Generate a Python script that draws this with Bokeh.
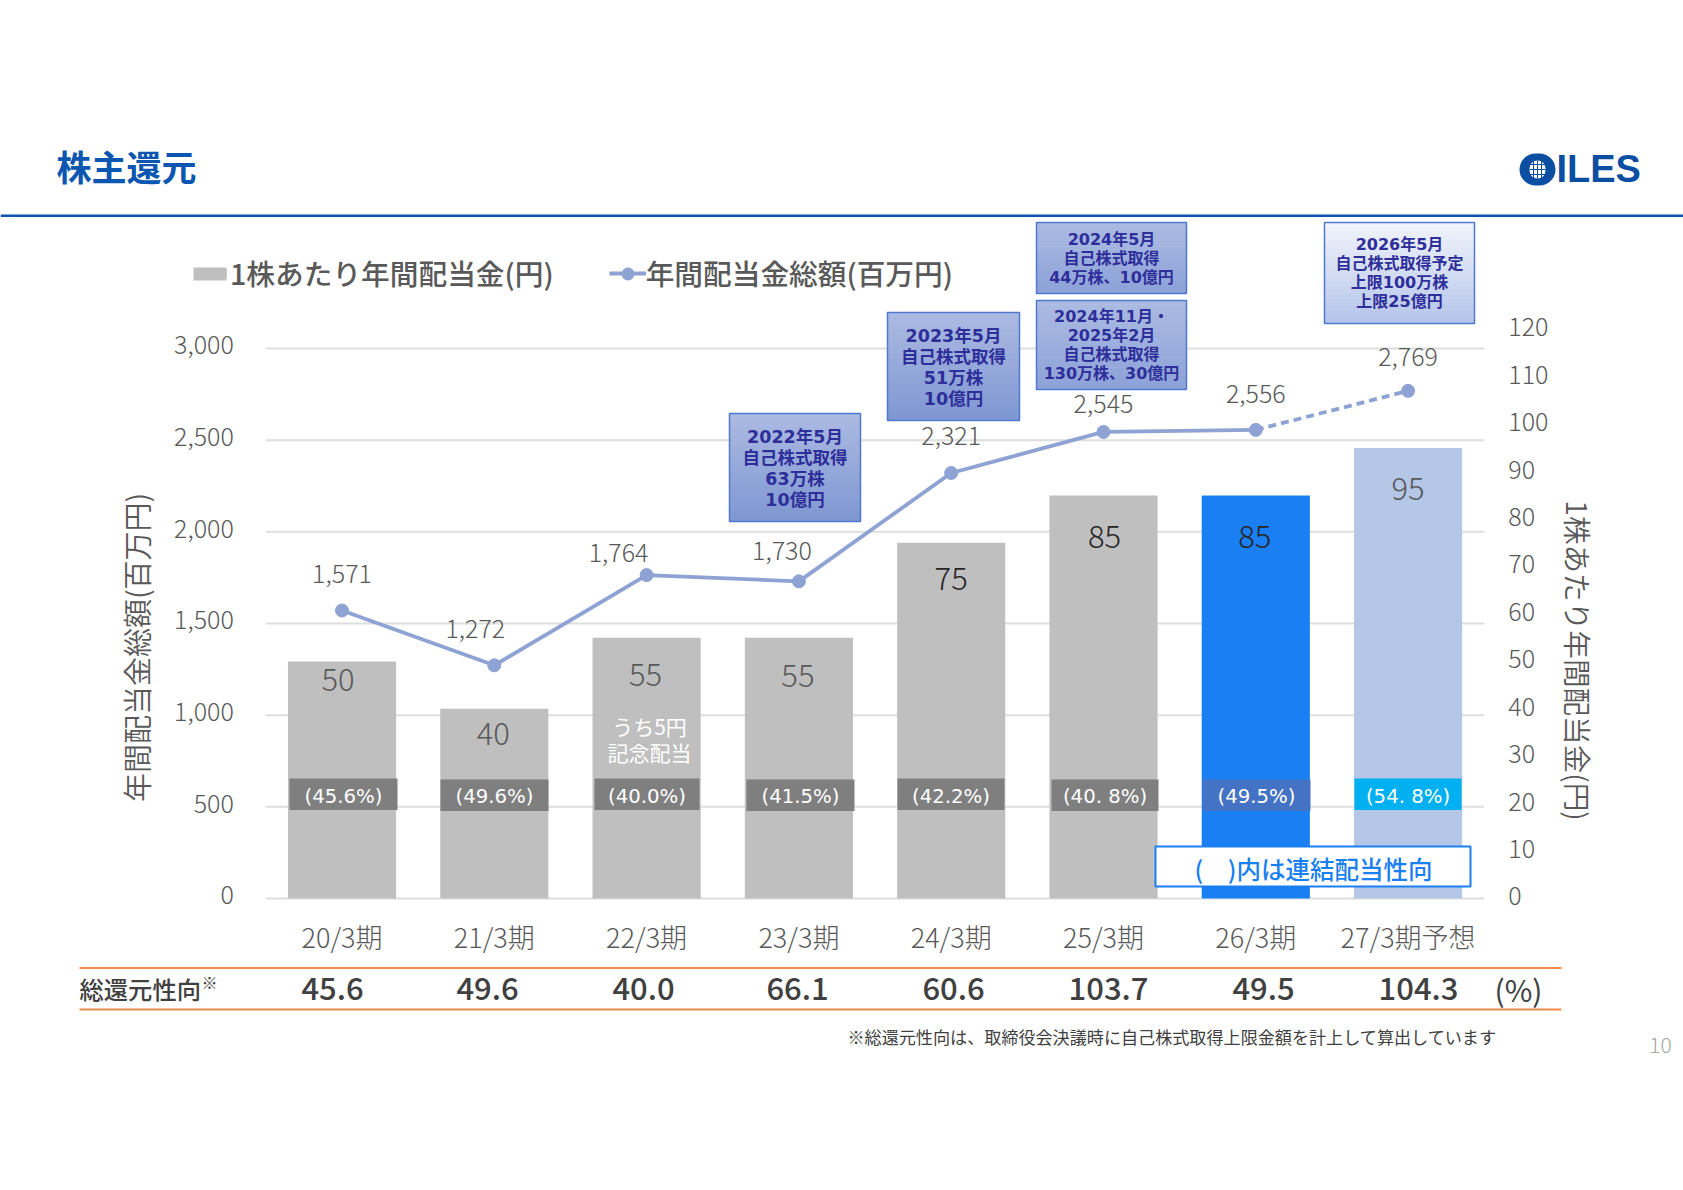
from bokeh.embed import file_html
from bokeh.resources import INLINE
from bokeh.plotting import figure
from bokeh.models import (ColumnDataSource, LinearAxis, Range1d, FixedTicker, NumeralTickFormatter,
                          BoxAnnotation, Label, Legend, LegendItem)

# ---- data ----
categories = ["20/3期", "21/3期", "22/3期", "23/3期", "24/3期", "25/3期", "26/3期", "27/3期予想"]
dividend_per_share = [50, 40, 55, 55, 75, 85, 85, 95]
total_dividend = [1571, 1272, 1764, 1730, 2321, 2545, 2556, 2769]
payout_labels = ["(45.6%)", "(49.6%)", "(40.0%)", "(41.5%)", "(42.2%)", "(40. 8%)", "(49.5%)", "(54. 8%)"]
total_return = ["45.6", "49.6", "40.0", "66.1", "60.6", "103.7", "49.5", "104.3"]
left_ticks = [0, 500, 1000, 1500, 2000, 2500, 3000]
right_ticks = [0, 10, 20, 30, 40, 50, 60, 70, 80, 90, 100, 110, 120]
callout_a = ["2022年5月", "自己株式取得", "63万株", "10億円"]
callout_b = ["2023年5月", "自己株式取得", "51万株", "10億円"]
callout_c = ["2024年5月", "自己株式取得", "44万株、10億円"]
callout_d = ["2024年11月・", "2025年2月", "自己株式取得", "130万株、30億円"]
callout_e = ["2026年5月", "自己株式取得予定", "上限100万株", "上限25億円"]

# ---- styles / layout (page pixels) ----
JP = "Noto Sans CJK JP"
JPL = "Noto Sans CJK JP Light"
JPD = "Noto Sans CJK JP DemiLight"
JPM = "Noto Sans CJK JP Medium"
WIDE = "DejaVu Sans, Noto Sans CJK JP"
GRAY = "#595959"
W, H = 1683, 1190
X0_PX, STEP_PX = 341.5, 152.3      # pixel position of the first category and pixel step
Y0_PX = 898                        # pixel position of zero on both value axes
LEFT_SCALE, RIGHT_SCALE = 0.18333, 4.7417   # px per unit
LEFT_LABEL_LIFT, RIGHT_LABEL_LIFT = 3.2, 2.1  # tick label optical centring, px
bar_colors = ["#BFBFBF"] * 6 + ["#1A7FF2", "#B4C7E7"]
bar_text_colors = ["#595959"] * 4 + ["#262626"] * 3 + ["#595959"]
bar_dx = [-4, -1, -1, -1, 0, 1, -1, 0]
bar_dy = [18, 25, 37, 38, 36, 41, 41, 40]
line_dx = [0, -19, -28, -17, 0, 0, 0, 0]
line_dy = [-36, -36, -22, -30, -37, -28, -36, -34]
xi = list(range(len(categories)))

p = figure(width=W, height=H, output_backend="svg", toolbar_location=None,
           x_range=Range1d(-X0_PX / STEP_PX, (W - X0_PX) / STEP_PX),
           y_range=Range1d(-(H - Y0_PX) / LEFT_SCALE, Y0_PX / LEFT_SCALE),
           x_axis_location=None, y_axis_location=None,
           min_border=0, outline_line_color=None, background_fill_color="white")
p.extra_y_ranges = {
    "dps": Range1d(-(H - Y0_PX) / RIGHT_SCALE, Y0_PX / RIGHT_SCALE),
    "left_lbl": Range1d(-(H - Y0_PX + LEFT_LABEL_LIFT) / LEFT_SCALE, (Y0_PX - LEFT_LABEL_LIFT) / LEFT_SCALE),
    "right_lbl": Range1d(-(H - Y0_PX + RIGHT_LABEL_LIFT) / RIGHT_SCALE, (Y0_PX - RIGHT_LABEL_LIFT) / RIGHT_SCALE),
}
p.xgrid.visible = False
p.ygrid.visible = False

ax = LinearAxis(fixed_location=0, ticker=FixedTicker(ticks=xi),
                major_label_overrides={i: c for i, c in zip(xi, categories)})
ax.axis_line_color = None
ax.major_tick_line_color = None; ax.minor_tick_line_color = None
ax.major_label_text_font = JPL; ax.major_label_text_font_size = "27px"
ax.major_label_text_color = GRAY; ax.major_label_standoff = 12
p.add_layout(ax, "below")

ay = LinearAxis(fixed_location=-0.5, y_range_name="left_lbl", ticker=FixedTicker(ticks=left_ticks),
                formatter=NumeralTickFormatter(format="0,0"))
ay.axis_line_color = None; ay.major_tick_line_color = None; ay.minor_tick_line_color = None
ay.major_label_text_font = JPL; ay.major_label_text_font_size = "25px"
ay.major_label_text_color = GRAY; ay.major_label_standoff = 26
p.add_layout(ay, "left")

ar = LinearAxis(fixed_location=7.5, y_range_name="right_lbl", ticker=FixedTicker(ticks=right_ticks))
ar.axis_line_color = None; ar.major_tick_line_color = None; ar.minor_tick_line_color = None
ar.major_label_text_font = JPL; ar.major_label_text_font_size = "25px"
ar.major_label_text_color = GRAY; ar.major_label_standoff = 18
p.add_layout(ar, "right")

# gridlines between the two ends of the category band
p.segment(x0=[-0.5] * len(left_ticks), x1=[7.5] * len(left_ticks), y0=left_ticks, y1=left_ticks,
          line_color="#DEDEDE", line_width=2)

bars_src = ColumnDataSource(dict(x=xi, top=dividend_per_share, color=bar_colors,
                                 label=[str(v) for v in dividend_per_share], tcolor=bar_text_colors,
                                 dx=bar_dx, dy=bar_dy))
bars = p.vbar(x="x", top="top", width=0.71, bottom=0, fill_color="color", line_color=None,
              source=bars_src, y_range_name="dps")
p.text(x="x", y="top", text="label", text_color="tcolor", x_offset="dx", y_offset="dy",
       text_align="center", text_baseline="middle", text_font={"value": JPL}, text_font_size={"value": "31px"},
       source=bars_src, y_range_name="dps")

LINE = "#8EA2D4"
l_solid = p.line(xi[:7], total_dividend[:7], line_color=LINE, line_width=3.8)
p.line(xi[6:], total_dividend[6:], line_color=LINE, line_width=3.8, line_dash=[8, 5])
m = p.scatter(xi, total_dividend, size=13, fill_color=LINE, line_color=LINE)
line_src = ColumnDataSource(dict(x=xi, y=total_dividend, label=[f"{v:,}" for v in total_dividend],
                                 dx=line_dx, dy=line_dy))
p.text(x="x", y="y", text="label", x_offset="dx", y_offset="dy", text_align="center", text_baseline="middle",
       text_font={"value": JPL}, text_font_size={"value": "25px"}, text_color=GRAY, source=line_src)

legend = Legend(items=[LegendItem(label="1株あたり年間配当金(円)", renderers=[bars]),
                       LegendItem(label="年間配当金総額(百万円)", renderers=[l_solid, m])],
                orientation="horizontal", location=(193, H - 293), border_line_color=None,
                background_fill_alpha=0, margin=0, padding=0, spacing=55,
                label_text_font=JPM, label_text_font_size="28.7px", label_text_color=GRAY,
                glyph_width=37, glyph_height=10, label_standoff=0, label_height=34)
p.add_layout(legend, "center")


def box(x0, y0, x1, y1, fill, line=None, lw=1, radius=0):
    p.add_layout(BoxAnnotation(left=x0, right=x1, top=y0, bottom=y1,
                               left_units="canvas", right_units="canvas", top_units="canvas", bottom_units="canvas",
                               fill_color=fill, fill_alpha=1 if fill else 0, line_color=line, line_alpha=1,
                               line_width=lw, border_radius=radius, level="annotation"))


def text(x, y, s, size, color=GRAY, align="center", style="normal", font=JP, angle=0):
    p.add_layout(Label(x=x, y=y, x_units="canvas", y_units="canvas", text=s, text_font=font,
                       text_font_size=f"{size}px", text_color=color, text_align=align, text_baseline="middle",
                       text_font_style=style, angle=angle, angle_units="deg", level="annotation"))


def lerp(c0, c1, t):
    a = [int(c0[i:i + 2], 16) for i in (1, 3, 5)]
    b = [int(c1[i:i + 2], 16) for i in (1, 3, 5)]
    return "#" + "".join(f"{round(u + (v - u) * t):02x}" for u, v in zip(a, b))


def callout(x0, y0, x1, y1, lines, ys, size, c0, c1):
    n = 24
    h = (y1 - y0) / n
    for i in range(n):
        box(x0, y0 + i * h, x1, y0 + (i + 1) * h + 0.6, lerp(c0, c1, i / (n - 1)))
    box(x0, y0, x1, y1, None, "#4F78CF", 1.5)
    for s, y in zip(lines, ys):
        text((x0 + x1) / 2, y - 1, s, size, "#2E2E9A", font=WIDE, style="bold")


# title + header
text(56, 165, "株主還元", 35, "#0A56B0", align="left", style="bold")
box(0, 214, 1683, 216.5, "#0A56B0")

# logo
box(1519, 153, 1555, 185, "#0B4EA2", radius=16)
box(1529, 160, 1545, 178, "#FFFFFF", radius=8)
for gx in (1533, 1537, 1541):
    box(gx - 0.5, 160, gx + 0.5, 178, "#0B4EA2")
for gy in (164, 169, 174):
    box(1529, gy - 0.5, 1545, gy + 0.5, "#0B4EA2")
text(1556, 168, "ILES", 38, "#0B4EA2", align="left", style="bold", font="Liberation Sans")

# legend swatch and marker at the reference's size
box(193, 267, 226, 280, "#BFBFBF")
box(621, 267, 634, 280, LINE, radius=7)

# axis titles
text(135, 647, "年間配当金総額(百万円)", 29, GRAY, font=JPD, angle=90)
text(1578, 660, "1株あたり年間配当金(円)", 28.6, GRAY, font=JPD, angle=-90)

# payout strips
strip_x = [(289, 397), (440, 548), (594, 699), (746, 854), (897, 1004), (1051, 1158), (1202, 1310), (1354, 1461)]
strip_c = ["#7F7F7F"] * 6 + ["#4472C4", "#00B0F0"]
strip_ty = [778, 779, 778, 779, 778, 779, 779, 778]
for (x0, x1), c, lb, ty in zip(strip_x, strip_c, payout_labels, strip_ty):
    box(x0, ty, x1, ty + 31.5, c)
    text((x0 + x1) / 2, 796, lb, 19.7, "#FFFFFF", font="DejaVu Sans")

text(649, 725, "うち5円", 21, "#FFFFFF", font=JP)
text(649, 751, "記念配当", 21, "#FFFFFF", font=JP)

# note box
box(1155, 846, 1470, 886, "#FFFFFF", "#1A7FF2", 2)
text(1194, 868, "(　)内は連結配当性向", 24.5, "#1A7FF2", align="left", font=JPM)

# callouts
callout(729, 413, 860, 521, callout_a, [437, 458, 479, 500], 17.5, "#ABBAE2", "#7F97D2")
callout(887, 312, 1019, 420, callout_b, [336, 357, 378, 399], 17.5, "#ABBAE2", "#7F97D2")
callout(1036, 222, 1186, 293, callout_c, [240, 259, 278], 16, "#ABBAE2", "#8DA2D8")
callout(1036, 300, 1186, 389, callout_d, [317, 336, 355, 374], 16, "#ABBAE2", "#8DA2D8")
callout(1324, 222, 1474, 323, callout_e, [245, 264, 283, 302], 16, "#F0F3FB", "#B5C5EA")

# table
box(79, 966.5, 1561, 968.5, "#F28A4A")
box(79, 1008, 1561, 1010, "#F28A4A")
text(79, 988, "総還元性向", 24.3, "#404040", align="left", font=JPM)
text(201, 981, "※", 16, "#404040", align="left")
table_x = [332, 487, 643, 797, 953, 1108, 1263, 1418]
for x, v in zip(table_x, total_return):
    text(x, 988, v, 31, "#404040", font=JPM)
text(1518, 988, "(%)", 30, "#404040", font=JP)
text(847, 1035.5, "※総還元性向は、取締役会決議時に自己株式取得上限金額を計上して算出しています", 17.1, "#404040", align="left")
text(1660, 1044, "10", 21, "#A6A6A6", font=JPL)

open("out.html", "w").write(file_html(p, INLINE))
